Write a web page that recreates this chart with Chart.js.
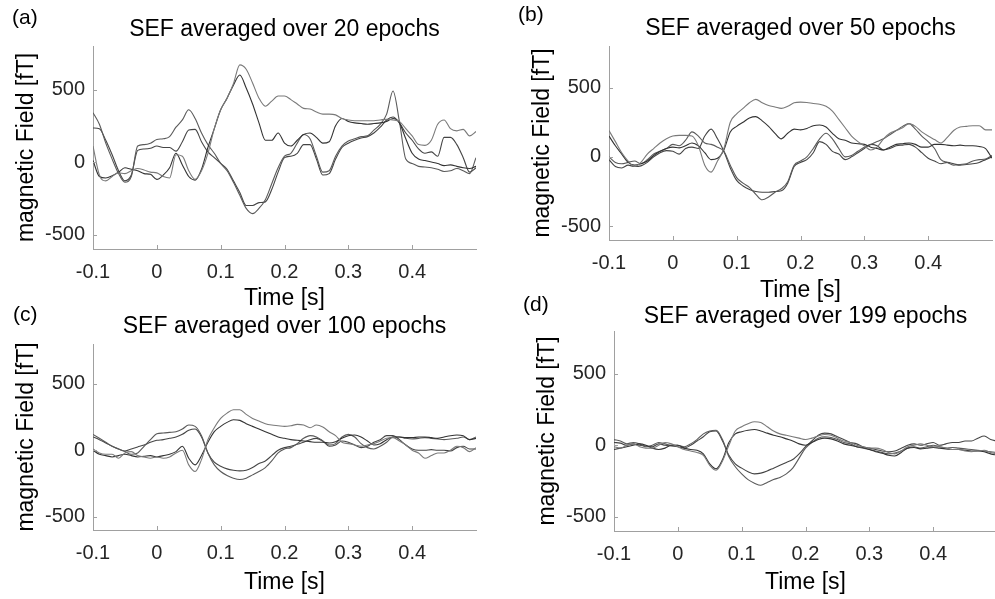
<!DOCTYPE html>
<html>
<head>
<meta charset="utf-8">
<title>SEF averaged over epochs</title>
<script src="https://cdn.jsdelivr.net/npm/chart.js@4.4.0/dist/chart.umd.min.js"></script>
<style>
  html, body { margin: 0; padding: 0; background: #fff; }
  body { width: 995px; height: 599px; position: relative; overflow: hidden; }
  canvas { position: absolute; }
</style>
</head>
<body>
<canvas id="chartA"></canvas>
<canvas id="chartB"></canvas>
<canvas id="chartC"></canvas>
<canvas id="chartD"></canvas>
<script>
// time axis (s), shared by every trace
const timeS = [
  -0.10, -0.09, -0.08, -0.07, -0.06, -0.05, -0.04, -0.03, -0.02, -0.01,
  0.00, 0.01, 0.02, 0.03, 0.04, 0.05, 0.06, 0.07, 0.08, 0.09,
  0.10, 0.11, 0.12, 0.13, 0.14, 0.15, 0.16, 0.17, 0.18, 0.19,
  0.20, 0.21, 0.22, 0.23, 0.24, 0.25, 0.26, 0.27, 0.28, 0.29,
  0.30, 0.31, 0.32, 0.33, 0.34, 0.35, 0.36, 0.37, 0.38, 0.39,
  0.40, 0.41, 0.42, 0.43, 0.44, 0.45, 0.46, 0.47, 0.48, 0.49,
  0.50
];
const xTicks = [-0.1, 0, 0.1, 0.2, 0.3, 0.4];
const yTicks = [-500, 0, 500];
const titles = [
  "SEF averaged over 20 epochs",
  "SEF averaged over 50 epochs",
  "SEF averaged over 100 epochs",
  "SEF averaged over 199 epochs"
];
const tags = ["(a)", "(b)", "(c)", "(d)"];

// (a) 20 epochs, magnetic field in fT
const aP1 = [110, -90, -130, -100, -75, -80, -60, -45, -55, -70,
  -75, -100, -110, 50, 40, -60, -120, -60, 60, 230,
  360, 440, 540, 670, 640, 545, 440, 385, 420, 455,
  455, 430, 400, 370, 365, 345, 330, 330, 325, 300,
  290, 285, 285, 284, 285, 290, 295, 290, 280, 230,
  180, 120, 115, 150, 260, 290, 230, 215, 225, 180,
  210];
const aP2 = [10, -100, -110, -95, -70, -40, -50, -60, -80, -85,
  -120, -90, -40, 60, -20, -100, -125, -50, 100, 230,
  360, 440, 530, 600, 510, 400, 270, 150, 150, 200,
  130, 110, 150, 190, 200, 170, 130, 140, 250, 300,
  280, 270, 265, 260, 265, 270, 280, 300, 270, 160,
  60, 20, 10, 0, -10, -25, -20, -30, -40, -45,
  -30];
const aN1 = [340, 260, 130, 20, -80, -140, -100, 110, 120, 130,
  155, 160, 175, 240, 290, 360, 300, 200, 120, 60,
  -10, -60, -140, -230, -320, -356, -320, -260, -150, -40,
  40, 60, 130, 190, 160, 40, -70, -60, 40, 110,
  145, 160, 175, 180, 220, 260, 330, 490, 280, 20,
  -10, -30, -35, -40, -50, -65, -60, -45, -60, -80,
  30];
const aN2 = [235, 230, 150, 50, -60, -130, -90, 80, 90, 95,
  110, 100, 100, 75, 140, 220, 225, 140, 70, 30,
  -10, -50, -130, -210, -300, -300, -280, -275, -190, -70,
  30, 40, 60, 120, 120, 20, -90, -80, 20, 100,
  130, 150, 165, 175, 200, 240, 290, 310, 270, 200,
  150, 90, 60, 70, 40, 170, 170, 120, 30, -70,
  -40];

// (b) 50 epochs
const bP1 = [190, 110, 30, -30, -70, -40, 20, 60, 100, 130,
  150, 155, 155, 150, 80, -60, -110, -30, 60, 250,
  310, 350, 390, 415, 390, 370, 360, 350, 365, 390,
  395, 392, 385, 380, 365, 330, 270, 210, 150, 110,
  80, 50, 70, 130, 170, 190, 210, 240, 220, 180,
  150, 125, 100, 140, 190, 215, 220, 225, 225, 195,
  195];
const bP2 = [150, 80, 20, -40, -60, -50, -30, 10, 40, 60,
  70, 65, 80, 100, 80, 30, -20, -10, 50, 180,
  220, 250, 280, 290, 260, 220, 170, 130, 170, 200,
  195, 205, 225, 230, 215, 170, 130, 120, 100, 95,
  90, 70, 60, 50, 70, 90, 95, 100, 90, 70,
  70, 90, 90, 85, 80, 85, 80, 80, 75, 60,
  -10];
const bN1 = [0, -40, -50, -40, -30, -50, -20, 20, 40, 60,
  90, 80, 120, 180, 150, 100, 90, 70, 40, -60,
  -150, -190, -220, -270, -310, -290, -255, -230, -180, -60,
  -30, 0, 60, 130, 170, 130, 60, 0, 10, 40,
  70, 90, 110, 130, 160, 190, 220, 240, 200, 150,
  110, 60, -20, -40, -60, -55, -50, -30, -20, -15,
  10];
const bN2 = [-20, -70, -80, -60, -70, -65, -40, 0, 30, 45,
  40, 20, 60, 70, 60, 150, 200, 130, 40, -80,
  -170, -210, -235, -250, -255, -255, -250, -245, -190, -70,
  -40, -20, 30, 110, 90, 40, 20, -20, 0, 30,
  60, 90, 80, 50, 60, 80, 85, 90, 70, 30,
  -10, -30, -50, -40, -50, -60, -55, -50, -40, -20,
  0];

// (c) 100 epochs
const cNA = [120, 90, 60, 30, 10, -10, -30, -20, 30, 80,
  125, 130, 135, 140, 160, 190, 180, 110, -20, -110,
  -160, -190, -210, -220, -210, -185, -160, -130, -80, -20,
  10, 20, 50, 90, 110, 100, 70, 40, 50, 100,
  120, 100, 50, 20, 10, 30, 60, 100, 100, 90,
  85, 90, 95, 90, 85, 80, 85, 90, 100, 80,
  100];
const cNB = [100, 80, 55, 30, 10, -5, 10, 25, 40, 60,
  75, 80, 90, 100, 120, 150, 160, 100, -20, -90,
  -120, -140, -150, -155, -150, -130, -100, -80, -40, 0,
  20, 30, 45, 60, 80, 90, 70, 30, 40, 70,
  60, 40, 20, 30, 60, 80, 110, 110, 80, 40,
  10, 0, 0, 5, 0, 0, -5, 20, 30, 10,
  10];
const cPA = [10, -20, -30, -30, -60, -20, -10, -40, -50, -60,
  -50, -60, -50, -20, 0, -110, -160, -70, 80, 170,
  240, 280, 305, 305, 270, 240, 220, 200, 190, 185,
  180, 185, 195, 190, 170, 190, 175, 140, 110, 60,
  50, 40, 30, 40, 50, 70, 90, 95, 70, 40,
  0, -20, -60, -40, -20, -20, 0, 30, 20, -10,
  20];
const cPB = [0, -30, -40, -50, -40, -30, -40, -50, -45, -40,
  -50, -40, -30, -10, 30, -60, -110, -40, 60, 140,
  180, 210, 230, 225, 200, 180, 160, 140, 120, 100,
  90, 80, 75, 70, 65, 60, 60, 55, 65, 90,
  110, 115, 100, 70, 40, 50, 80, 100, 100, 95,
  95, 100, 100, 95, 90, 100, 110, 115, 110, 80,
  90];

// (d) 199 epochs
const dNA = [40, 30, 10, 20, 10, -10, 0, 20, 10, 0,
  0, -10, 10, 40, 80, 100, 105, 40, -80, -150,
  -200, -240, -265, -280, -260, -240, -225, -200, -160, -90,
  -20, 20, 50, 60, 55, 40, 20, 10, -10, -20,
  -30, -40, -50, -60, -55, -40, -20, -10, -20, -10,
  0, -10, -20, -15, -20, -25, -30, -35, -40, -45,
  -50];
const dNB = [20, 15, 0, 10, 0, -5, -10, 10, 0, -5,
  -10, -20, 0, 30, 60, 95, 100, 30, -70, -130,
  -160, -185, -200, -195, -180, -160, -140, -120, -100, -60,
  -10, 30, 70, 85, 80, 60, 40, 20, 10, -10,
  -20, -30, -40, -45, -40, -20, 0, 10, 0, 10,
  20, 0, 10, 20, 20, 30, 30, 50, 65, 40,
  30];
const dPA = [-10, -20, 0, 10, -10, -20, -20, 0, 20, 10,
  -10, -30, -40, -50, -70, -140, -175, -110, 0, 100,
  130, 150, 165, 160, 130, 100, 80, 70, 60, 50,
  40, 50, 65, 75, 70, 50, 30, 20, 0, -10,
  -20, -20, -30, -50, -60, -40, -10, 0, 10, 0,
  -10, -10, -20, -30, -30, -40, -45, -40, -35, -50,
  -60];
const dPB = [-30, -20, -10, 0, 10, 0, -20, -30, -20, 0,
  0, -20, -30, -35, -60, -130, -165, -100, 20, 80,
  95, 105, 110, 100, 85, 70, 60, 45, 30, 10,
  0, 20, 40, 50, 45, 30, 10, 0, -10, -15,
  -30, -45, -55, -70, -75, -50, -20, -15, -25, -20,
  -15, -20, -25, -30, -30, -35, -40, -40, -45, -60,
  -70];

const FONT = '"Liberation Sans", Arial, sans-serif';
const AXIS_COLOR = "#a0a0a0";
const TEXT_COLOR = "#262626";
const LINE_COLORS = ["#7a7a7a", "#333333", "#5a5a5a", "#454545"];
const Y_AXIS_W = 93;
const PLOT_W = 383;
const PAD_TOP = 46;
const PAD_RIGHT = 10;

// page positions of each plot box and its texts
const panels = [
  { id: "chartA", title: titles[0], tag: tags[0], series: [aP1, aP2, aN1, aN2],
    left: 93, top: 46, bottom: 249, titleY: 30, tagX: 12, tagY: 18, xTitleY: 298 },
  { id: "chartB", title: titles[1], tag: tags[1], series: [bP1, bP2, bN1, bN2],
    left: 609, top: 46, bottom: 240, titleY: 29, tagX: 518, tagY: 15, xTitleY: 290 },
  { id: "chartC", title: titles[2], tag: tags[2], series: [cPA, cPB, cNA, cNB],
    left: 93, top: 344, bottom: 530, titleY: 327, tagX: 13, tagY: 315, xTitleY: 582 },
  { id: "chartD", title: titles[3], tag: tags[3], series: [dPA, dPB, dNA, dNB],
    left: 614, top: 331, bottom: 531, titleY: 317, tagX: 523, tagY: 305, xTitleY: 582 }
];

// title and (a)/(b)... tag, drawn centred over the plot box
const panelText = {
  id: "panelText",
  afterDraw(chart, args, opts) {
    const { ctx, chartArea } = chart;
    ctx.save();
    ctx.fillStyle = "#000";
    ctx.textBaseline = "middle";
    ctx.font = "23px " + FONT;
    ctx.textAlign = "center";
    ctx.fillText(opts.title, (chartArea.left + chartArea.right) / 2, opts.titleY);
    ctx.font = "21px " + FONT;
    ctx.textAlign = "left";
    ctx.fillText(opts.tag, opts.tagX, opts.tagY);
    ctx.restore();
  }
};

// MATLAB style tick marks pointing into the axes
const inwardTicks = {
  id: "inwardTicks",
  afterDraw(chart) {
    const { ctx, chartArea, scales: { x, y } } = chart;
    ctx.save();
    ctx.strokeStyle = AXIS_COLOR;
    ctx.lineWidth = 1;
    ctx.beginPath();
    x.ticks.forEach(t => {
      const px = Math.round(x.getPixelForValue(t.value)) + 0.5;
      ctx.moveTo(px, chartArea.bottom);
      ctx.lineTo(px, chartArea.bottom - 4);
    });
    y.ticks.forEach(t => {
      const py = Math.round(y.getPixelForValue(t.value)) + 0.5;
      ctx.moveTo(chartArea.left, py);
      ctx.lineTo(chartArea.left + 4, py);
    });
    ctx.stroke();
    ctx.restore();
  }
};

Chart.defaults.font.family = FONT;
Chart.defaults.color = TEXT_COLOR;

function makePanel(p) {
  const canvas = document.getElementById(p.id);
  const cx = p.left - Y_AXIS_W;
  const cy = p.top - PAD_TOP;
  const xAxisH = Math.round(p.xTitleY + 13.8 - p.bottom);
  const w = Y_AXIS_W + PLOT_W + PAD_RIGHT;
  const h = (p.bottom - cy) + xAxisH;
  canvas.width = w;
  canvas.height = h;
  canvas.style.left = cx + "px";
  canvas.style.top = cy + "px";
  canvas.style.width = w + "px";
  canvas.style.height = h + "px";

  const datasets = p.series.map((vals, i) => ({
    data: timeS.map((t, k) => ({ x: t, y: vals[k] })),
    borderColor: LINE_COLORS[i],
    borderWidth: 1.1,
    pointRadius: 0,
    fill: false,
    cubicInterpolationMode: "monotone"
  }));

  new Chart(canvas.getContext("2d"), {
    type: "line",
    data: { datasets },
    options: {
      responsive: false,
      animation: false,
      devicePixelRatio: 1,
      layout: { padding: { top: PAD_TOP, right: PAD_RIGHT, left: 0, bottom: 0 } },
      plugins: {
        legend: { display: false },
        tooltip: { enabled: false },
        panelText: {
          title: p.title, tag: p.tag,
          titleY: p.titleY - cy, tagX: p.tagX - cx, tagY: p.tagY - cy
        }
      },
      scales: {
        x: {
          type: "linear",
          min: -0.1,
          max: 0.5,
          afterBuildTicks: s => { s.ticks = xTicks.map(v => ({ value: v })); },
          afterFit: s => { s.height = xAxisH; },
          grid: { display: true, drawOnChartArea: false, drawTicks: false },
          border: { display: true, color: AXIS_COLOR, width: 1 },
          ticks: {
            autoSkip: false,
            maxRotation: 0,
            padding: 11,
            color: TEXT_COLOR,
            font: { size: 20 },
            callback: v => String(Math.round(v * 10) / 10)
          },
          title: {
            display: true,
            text: "Time [s]",
            color: "#000",
            font: { size: 23 },
            padding: { top: 0, bottom: 0 }
          }
        },
        y: {
          min: -600,
          max: 800,
          afterBuildTicks: s => { s.ticks = yTicks.map(v => ({ value: v })); },
          afterFit: s => { s.width = Y_AXIS_W; },
          grid: { display: true, drawOnChartArea: false, drawTicks: false },
          border: { display: true, color: AXIS_COLOR, width: 1 },
          ticks: {
            padding: 8,
            color: TEXT_COLOR,
            font: { size: 20 }
          },
          title: {
            display: true,
            text: "magnetic Field [fT]",
            color: "#000",
            font: { size: 23 },
            padding: { top: 13, bottom: 0 }
          }
        }
      }
    },
    plugins: [panelText, inwardTicks]
  });
}

panels.forEach(makePanel);
</script>
</body>
</html>
